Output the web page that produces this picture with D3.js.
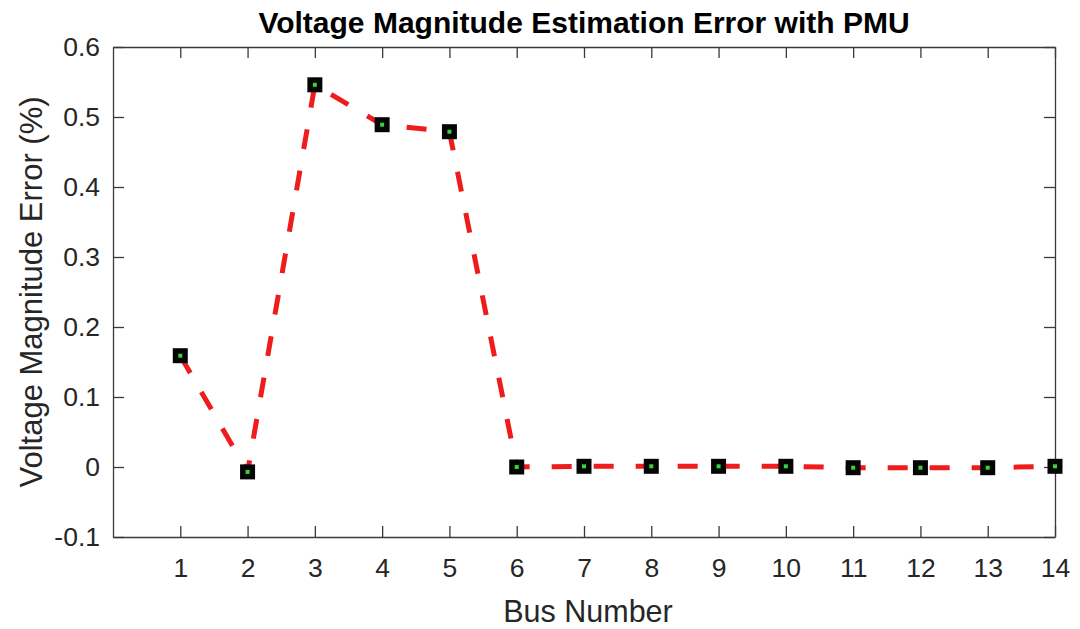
<!DOCTYPE html>
<html>
<head>
<meta charset="utf-8">
<script src="https://cdn.jsdelivr.net/npm/d3@7"></script>
<style>
  body { margin: 0; background: #fff; }
  svg { display: block; font-family: "Liberation Sans", Arial, Helvetica, sans-serif; }
</style>
</head>
<body>
<svg id="chart" width="1080" height="629"></svg>
<script>
// bus numbers and estimation error (%)
const buses = [1, 2, 3, 4, 5, 6, 7, 8, 9, 10, 11, 12, 13, 14];
const errors = [0.159, -0.007, 0.546, 0.489, 0.479, 0.0, 0.001, 0.001, 0.001, 0.001, -0.001, -0.001, -0.001, 0.001];
const xTicks = [1, 2, 3, 4, 5, 6, 7, 8, 9, 10, 11, 12, 13, 14];
const yTicks = [-0.1, 0, 0.1, 0.2, 0.3, 0.4, 0.5, 0.6];

const titleText = "Voltage Magnitude Estimation Error with PMU";
const xLabel = "Bus Number";
const yLabel = "Voltage Magnitude Error (%)";

const plotL = 113, plotR = 1055, plotT = 47, plotB = 537;
const svg = d3.select("#chart");

const x = d3.scaleLinear().domain([0, 14]).range([plotL, plotR]);
const y = d3.scaleLinear().domain([-0.1, 0.6]).range([plotB, plotT]);

const axisColor = "#3a3a3a";
const fmt = d => d === 0 ? "0" : d.toFixed(1);

//assi con tick verso l'interno, come in MATLAB
function styleAxis(g) {
  g.select(".domain").attr("stroke", axisColor).attr("stroke-width", 1.3);
  g.selectAll(".tick line").attr("stroke", axisColor).attr("stroke-width", 1.3);
  g.selectAll(".tick text").attr("fill", "#262626").attr("font-size", "26.5px");
}

svg.append("g")
  .attr("transform", `translate(0,${plotB})`)
  .call(d3.axisBottom(x).tickValues(xTicks).tickSizeInner(-11).tickSizeOuter(0).tickPadding(21))
  .call(styleAxis);

svg.append("g")
  .attr("transform", `translate(0,${plotT})`)
  .call(d3.axisTop(x).tickValues(xTicks).tickSizeInner(-11).tickSizeOuter(0).tickFormat(""))
  .call(styleAxis);

svg.append("g")
  .attr("transform", `translate(${plotL},0)`)
  .call(d3.axisLeft(y).tickValues(yTicks).tickSizeInner(-11).tickSizeOuter(0).tickPadding(13).tickFormat(fmt))
  .call(styleAxis);

svg.append("g")
  .attr("transform", `translate(${plotR},0)`)
  .call(d3.axisRight(y).tickValues(yTicks).tickSizeInner(-11).tickSizeOuter(0).tickFormat(""))
  .call(styleAxis);

// linea tratteggiata rossa
const pts = buses.map((b, i) => [b, errors[i]]);
svg.append("path")
  .datum(pts)
  .attr("fill", "none")
  .attr("stroke", "#ee1c1c")
  .attr("stroke-width", 5)
  .attr("stroke-dasharray", "20,22")
  .attr("d", d3.line().x(d => x(d[0])).y(d => y(d[1])));

// marker quadrati neri con centro verde
const mk = svg.append("g").selectAll("g").data(pts).join("g")
  .attr("transform", d => `translate(${x(d[0])},${y(d[1])})`);
mk.append("rect").attr("x", -7.5).attr("y", -7.5).attr("width", 15).attr("height", 15).attr("fill", "#050505");
mk.append("rect").attr("x", -2).attr("y", -2).attr("width", 4).attr("height", 4).attr("fill", "#35d43a");

svg.append("text")
  .attr("x", (plotL + plotR) / 2).attr("y", 33)
  .attr("text-anchor", "middle")
  .attr("font-size", "30px").attr("font-weight", "bold").attr("fill", "#000")
  .text(titleText);

svg.append("text")
  .attr("x", 588).attr("y", 622)
  .attr("text-anchor", "middle")
  .attr("font-size", "30.5px").attr("fill", "#262626")
  .text(xLabel);

svg.append("text")
  .attr("transform", "rotate(-90)")
  .attr("x", -292).attr("y", 42)
  .attr("text-anchor", "middle")
  .attr("font-size", "31px").attr("fill", "#262626")
  .text(yLabel);
</script>
</body>
</html>
